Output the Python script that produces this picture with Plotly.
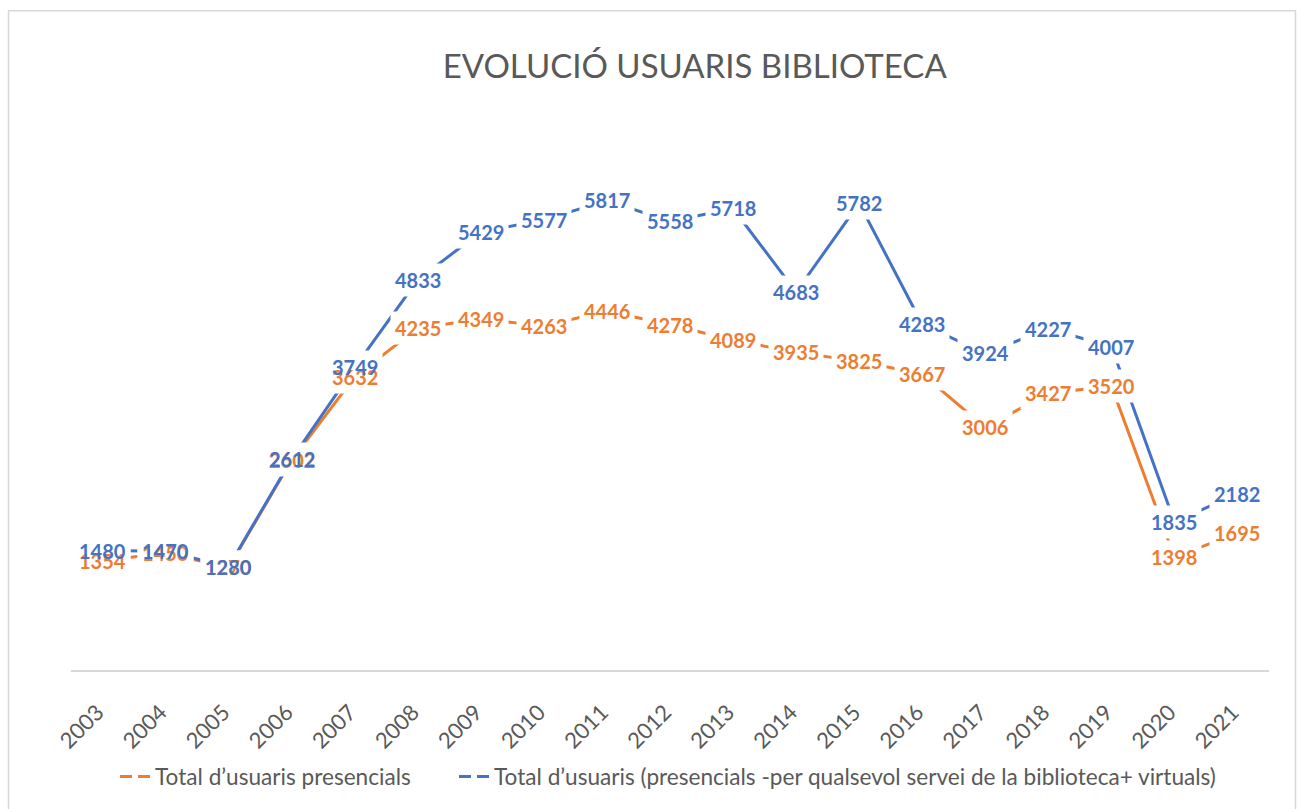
import plotly.graph_objects as go

years = ["2003", "2004", "2005", "2006", "2007", "2008", "2009", "2010", "2011", "2012",
         "2013", "2014", "2015", "2016", "2017", "2018", "2019", "2020", "2021"]
presencials = [1354, 1450, 1270, 2602, 3632, 4235, 4349, 4263, 4446, 4278,
               4089, 3935, 3825, 3667, 3006, 3427, 3520, 1398, 1695]
totals = [1480, 1470, 1280, 2612, 3749, 4833, 5429, 5577, 5817, 5558,
          5718, 4683, 5782, 4283, 3924, 4227, 4007, 1835, 2182]

name_pres = "Total d’usuaris presencials"
name_tot = "Total d’usuaris (presencials -per qualsevol servei de la biblioteca+ virtuals)"

ORANGE = "#ED7D31"
BLUE = "#4472C4"
GRAY = "#595959"
FONT = "Lato"

fig = go.Figure()

fig.add_trace(go.Scatter(x=years, y=presencials, mode="lines", line=dict(color=ORANGE, width=3),
                         showlegend=False, hoverinfo="skip"))
fig.add_trace(go.Scatter(x=years, y=totals, mode="lines", line=dict(color=BLUE, width=3),
                         showlegend=False, hoverinfo="skip"))
fig.add_trace(go.Scatter(x=[None], y=[None], mode="lines", name=name_pres, legend="legend",
                         line=dict(color=ORANGE, width=3, dash="12px,6px")))
fig.add_trace(go.Scatter(x=[None], y=[None], mode="lines", name=name_tot, legend="legend2",
                         line=dict(color=BLUE, width=3, dash="12px,6px")))

label_font = dict(family=FONT, size=20, weight="bold")
annotations = []
# white masks that break the lines around every label
for series in (presencials, totals):
    for i, v in enumerate(series):
        annotations.append(dict(x=i, y=v, xref="x", yref="y", text=str(v), showarrow=False,
                                font=dict(label_font, color="rgba(0,0,0,0)"),
                                bgcolor="white", borderpad=4))
# the label texts themselves
for series, color in ((presencials, ORANGE), (totals, BLUE)):
    for i, v in enumerate(series):
        annotations.append(dict(x=i, y=v, xref="x", yref="y", text=str(v), showarrow=False,
                                font=dict(label_font, color=color), borderpad=4))

legend_common = dict(orientation="h", xanchor="left", y=-0.187, yanchor="middle",
                     font=dict(family=FONT, size=22.6, color=GRAY), itemwidth=30,
                     bgcolor="rgba(0,0,0,0)")

fig.update_layout(
    width=1301, height=809,
    margin=dict(l=71, r=32, t=105, b=138),
    paper_bgcolor="white", plot_bgcolor="white",
    title=dict(text="EVOLUCIÓ USUARIS BIBLIOTECA", x=0.534, xanchor="center",
               y=1 - 66 / 809, yanchor="middle",
               font=dict(family=FONT, size=33, color=GRAY)),
    xaxis=dict(type="category", range=[-0.5, 18.5], showgrid=False, showline=True,
               linecolor="#D9D9D9", linewidth=1.5, ticks="", tickangle=-45,
               ticklabelstandoff=19, ticklabelshift=-5,
               tickfont=dict(family=FONT, size=22, color=GRAY), zeroline=False),
    yaxis=dict(range=[0, 7000], visible=False, showgrid=False, zeroline=False),
    legend=dict(legend_common, x=(115 - 71) / 1198),
    legend2=dict(legend_common, x=(454 - 71) / 1198),
    annotations=annotations,
    shapes=[dict(type="rect", xref="paper", yref="paper",
                 x0=(8.5 - 71) / 1198, x1=(1295.5 - 71) / 1198,
                 y0=-0.4, y1=(671 - 10.5) / 566,
                 line=dict(color="#D9D9D9", width=1.5), layer="below")],
)

fig.write_html("out.html", config={"displayModeBar": False},
               post_script="document.body.style.margin='0';")
